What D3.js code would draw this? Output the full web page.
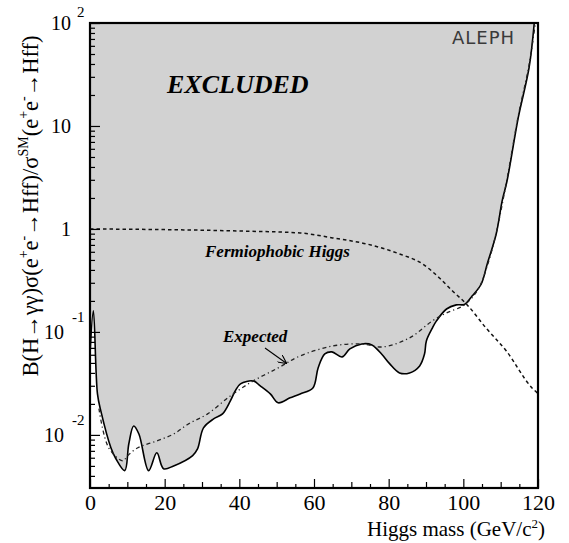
<!DOCTYPE html>
<html>
<head>
<meta charset="utf-8">
<script src="https://cdn.jsdelivr.net/npm/d3@7"></script>
<style>
  body { margin: 0; background: #fff; }
  svg { display: block; }
  text { font-family: "Liberation Serif", "Times New Roman", serif; }
</style>
</head>
<body>
<svg id="chart" width="569" height="543"></svg>
<script>
// observed 95% CL limit (solid line, edge of excluded region)
const obsMass = [0, 0.9, 2.0, 2.9, 5.6, 6.9, 9.3, 10.4, 11.7, 13.1, 15.7, 17.9, 19.7, 22.4, 27.5, 28.8,
  30.4, 33.1, 35.5, 37.6, 38.9, 40.3, 43.7, 45.6, 48.3, 50.4, 53.6, 56.3, 59.7, 61.1, 62.9, 64.8,
  67.5, 69.6, 72.8, 75.5, 78.1, 80.3, 82.9, 85.6, 88.3, 89.6, 90.1, 91.7, 92.8, 95.5, 98.1, 100.3,
  102.4, 104.8, 106.4, 108.8, 110.4, 111.7, 114.7, 117.6, 119.0];
const obsLimit = [0.06, 0.16, 0.025, 0.0171, 0.0075, 0.0059, 0.0045, 0.0082, 0.0122, 0.0102, 0.0045, 0.0067, 0.0047, 0.0050, 0.0063, 0.0073,
  0.0117, 0.0143, 0.016, 0.0214, 0.0267, 0.0313, 0.0334, 0.0299, 0.025, 0.0205, 0.0229, 0.025, 0.0286, 0.0447, 0.0611, 0.064,
  0.0572, 0.0684, 0.0764, 0.0748, 0.0611, 0.0489, 0.040, 0.040, 0.0468, 0.061, 0.0818, 0.109, 0.128, 0.167, 0.183, 0.185,
  0.224, 0.292, 0.457, 0.893, 1.87, 2.92, 12, 36.6, 100];

// expected limit (dash-dot)
const expMass = [2.4, 5.0, 8.8, 10.1, 12.8, 18.1, 22.4, 26.4, 31.5, 37.6, 43.7, 50.4, 56.3, 65.1, 72.8, 78.4,
  85.6, 91.7, 95.5, 100.3, 104.0, 106.4, 108.8, 111.7, 114.7, 117.6, 119.3];
const expLimit = [0.018, 0.0075, 0.0056, 0.0063, 0.0075, 0.0088, 0.0102, 0.0128, 0.016, 0.0239, 0.0334, 0.0447, 0.0585, 0.0731, 0.0764, 0.0715,
  0.0875, 0.128, 0.153, 0.183, 0.261, 0.437, 0.914, 3.05, 12.5, 39, 100];

// fermiophobic Higgs prediction (dashed)
const fermMass = [0, 20, 40, 56.3, 65, 74.1, 82.9, 89.1, 93.6, 97.1, 100.8, 106.1, 111.5, 118.4, 120];
const fermBr = [1.0, 0.985, 0.955, 0.914, 0.818, 0.715, 0.572, 0.457, 0.334, 0.25, 0.187, 0.109, 0.0654, 0.0286, 0.0252];

const xTicks = [0, 20, 40, 60, 80, 100, 120];
const yTicks = [100, 10, 1, 0.1, 0.01];
const yTickMant = ["10", "10", "1", "10", "10"];
const yTickExp = ["2", "", "", "-1", "-2"];

const m = { left: 90, right: 538, top: 23, bottom: 488 };

const x = d3.scaleLinear().domain([0, 120]).range([m.left, m.right]);
const y = d3.scaleLog().domain([0.00305, 100]).range([m.bottom, m.top]);

const svg = d3.select("#chart");

const obs = obsMass.map((v, i) => [v, obsLimit[i]]);
const exp = expMass.map((v, i) => [v, expLimit[i]]);
const ferm = fermMass.map((v, i) => [v, fermBr[i]]);

const curve = d3.curveCatmullRom.alpha(0.5);
const defs = svg.append("defs");

defs.append("clipPath").attr("id", "plot")
  .append("rect").attr("x", m.left).attr("y", m.top).attr("width", m.right - m.left).attr("height", m.bottom - m.top);

const g = svg.append("g").attr("clip-path", "url(#plot)");

// excluded region: everything above the observed curve
g.append("path")
  .datum(obs)
  .attr("fill", "#d2d2d2")
  .attr("d", d3.area().x(d => x(d[0])).y0(y(100)).y1(d => y(d[1])).curve(curve));

g.append("path")
  .datum(obs)
  .attr("fill", "none").attr("stroke", "#000").attr("stroke-width", 1.6)
  .attr("d", d3.line().x(d => x(d[0])).y(d => y(d[1])).curve(curve));

g.append("path")
  .datum(exp)
  .attr("fill", "none").attr("stroke", "#222").attr("stroke-width", 1.3)
  .attr("stroke-dasharray", "4,3,1.2,3")
  .attr("d", d3.line().x(d => x(d[0])).y(d => y(d[1])).curve(curve));

g.append("path")
  .datum(ferm)
  .attr("fill", "none").attr("stroke", "#111").attr("stroke-width", 1.5)
  .attr("stroke-dasharray", "3.5,3")
  .attr("d", d3.line().x(d => x(d[0])).y(d => y(d[1])).curve(d3.curveMonotoneX));

// axes: ticks point into the frame
const xMinor = d3.range(0, 121, 5).filter(v => v % 10 !== 0);
const xMid = d3.range(10, 120, 20);
svg.append("g").attr("transform", `translate(0,${m.bottom})`)
  .call(d3.axisBottom(x).tickValues(xMinor).tickSize(-4).tickFormat(""))
  .call(a => a.select(".domain").remove());
svg.append("g").attr("transform", `translate(0,${m.bottom})`)
  .call(d3.axisBottom(x).tickValues(xMid).tickSize(-6).tickFormat(""))
  .call(a => a.select(".domain").remove());
svg.append("g").attr("transform", `translate(0,${m.bottom})`)
  .call(d3.axisBottom(x).tickValues(xTicks).tickSize(-9).tickPadding(6))
  .call(a => a.select(".domain").remove())
  .call(a => a.selectAll("text").attr("font-size", 22).style("font-family", "Liberation Serif").attr("fill", "#000"));

const yMinor = [];
[0.001, 0.01, 0.1, 1, 10].forEach(dec => d3.range(2, 10).forEach(k => {
  const v = dec * k;
  if (v > 0.00305 && v < 100) yMinor.push(v);
}));
svg.append("g").attr("transform", `translate(${m.left},0)`)
  .call(d3.axisLeft(y).tickValues(yMinor).tickSize(-5).tickFormat(""))
  .call(a => a.select(".domain").remove());
svg.append("g").attr("transform", `translate(${m.left},0)`)
  .call(d3.axisLeft(y).tickValues(yTicks).tickSize(-10).tickFormat(""))
  .call(a => a.select(".domain").remove());
svg.selectAll(".tick line").attr("stroke", "#000").attr("stroke-width", 1.2);

// y tick labels with exponents
yTicks.forEach((v, i) => {
  const neg = yTickExp[i].startsWith("-");
  svg.append("text")
    .attr("x", neg ? 64 : 71).attr("y", y(v) + 7)
    .attr("text-anchor", "end").attr("font-size", 20)
    .text(yTickMant[i]);
  if (yTickExp[i]) {
    svg.append("text")
      .attr("x", neg ? 72 : 77).attr("y", y(v) + (neg ? -10 : -6))
      .attr("font-size", 15)
      .text(yTickExp[i]);
  }
});

// frame
svg.append("rect")
  .attr("x", m.left).attr("y", m.top).attr("width", m.right - m.left).attr("height", m.bottom - m.top)
  .attr("fill", "none").attr("stroke", "#000").attr("stroke-width", 2.2);

// texts
svg.append("text").attr("x", 167).attr("y", 93)
  .attr("font-size", 26).attr("font-weight", "bold").attr("font-style", "italic")
  .text("EXCLUDED");

svg.append("text").attr("x", 205).attr("y", 257)
  .attr("font-size", 17).attr("font-weight", "bold").attr("font-style", "italic")
  .text("Fermiophobic Higgs");

svg.append("text").attr("x", 223).attr("y", 342)
  .attr("font-size", 17).attr("font-weight", "bold").attr("font-style", "italic")
  .text("Expected");

defs.append("marker")
  .attr("id", "arrow").attr("viewBox", "0 0 10 10").attr("refX", 9).attr("refY", 5)
  .attr("markerWidth", 8).attr("markerHeight", 8).attr("orient", "auto")
  .append("path").attr("d", "M0,0 L10,5 L0,10").attr("fill", "none").attr("stroke", "#000").attr("stroke-width", 1.3);
svg.append("line")
  .attr("x1", 265).attr("y1", 348).attr("x2", 286).attr("y2", 363)
  .attr("stroke", "#000").attr("stroke-width", 1.1).attr("marker-end", "url(#arrow)");

svg.append("text").attr("x", 452).attr("y", 44)
  .style("font-family", "'DejaVu Sans', sans-serif").attr("font-size", 18).attr("letter-spacing", 1)
  .attr("fill", "#3a3a3a").text("ALEPH");

// x axis title
const xt = svg.append("text").attr("x", 545).attr("y", 536)
  .attr("text-anchor", "end").attr("font-size", 21);
xt.append("tspan").text("Higgs mass (GeV/c");
xt.append("tspan").attr("dy", -8).attr("font-size", 13).text("2");
xt.append("tspan").attr("dy", 8).text(")");

// y axis title (rotated)
const yt = svg.append("text")
  .attr("transform", "translate(38,206) rotate(-90)")
  .attr("text-anchor", "middle").attr("font-size", 22.5);
yt.append("tspan").text("B(H→γγ)σ(e");
yt.append("tspan").attr("dy", -10).attr("font-size", 14).text("+");
yt.append("tspan").attr("dy", 10).text("e");
yt.append("tspan").attr("dy", -10).attr("font-size", 14).text("-");
yt.append("tspan").attr("dy", 10).text("→Hff)/σ");
yt.append("tspan").attr("dy", -10).attr("font-size", 14).text("SM");
yt.append("tspan").attr("dy", 10).text("(e");
yt.append("tspan").attr("dy", -10).attr("font-size", 14).text("+");
yt.append("tspan").attr("dy", 10).text("e");
yt.append("tspan").attr("dy", -10).attr("font-size", 14).text("-");
yt.append("tspan").attr("dy", 10).text("→Hff)");
</script>
</body>
</html>
